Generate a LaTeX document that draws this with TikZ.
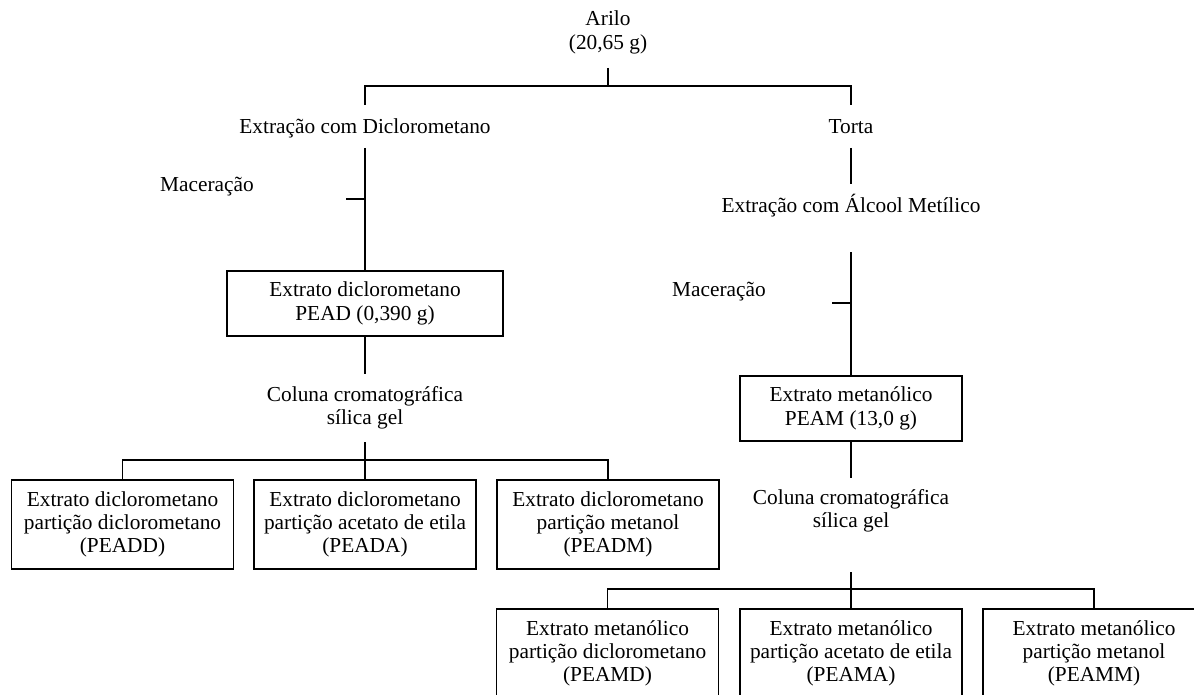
\documentclass[tikz,border=0pt]{standalone}
\usepackage{fontspec}
\setmainfont{Liberation Serif}
\begin{document}
\begin{tikzpicture}[x=0.75pt,y=-0.75pt,
  every node/.style={font=\fontsize{16}{17.5}\selectfont, align=center, inner sep=0pt},
  ln/.style={line width=1.4pt},
  bx/.style={draw, line width=1.4pt, minimum width=166.5pt, minimum height=66.75pt},
  bxs/.style={bx, minimum height=48.75pt}]
\useasboundingbox (0,0) rectangle (1194,695);
\clip (0,0) rectangle (1194,695);
% text nodes
\node (arilo) at (608,32.5) {Arilo\\(20,65 g)};
\node (extd) at (365,128) {Extração com Diclorometano};
\node (torta) at (851,127) {Torta};
\node (mac1) at (207,187) {Maceração};
\node[bxs, minimum width=207pt] (pead) at (365,303.5) {Extrato diclorometano\\PEAD (0,390 g)};
\node (col1) at (365,407.5) {Coluna cromatográfica\\sílica gel};
\node[bx] (b1) at (122.5,524.5) {Extrato diclorometano\\partição diclorometano\\(PEADD)};
\node[bx] (b2) at (365,524.5) {Extrato diclorometano\\partição acetato de etila\\(PEADA)};
\node[bx] (b3) at (608,524.5) {Extrato diclorometano\\partição metanol\\(PEADM)};
\node (extm) at (851,206) {Extração com Álcool Metílico};
\node (mac2) at (719,292) {Maceração};
\node[bxs] (peam) at (851,408.5) {Extrato metanólico\\PEAM (13,0 g)};
\node (col2) at (851,511) {Coluna cromatográfica\\sílica gel};
\node[bx] (r1) at (607.5,653.5) {Extrato metanólico\\partição diclorometano\\(PEAMD)};
\node[bx] (r2) at (851,653.5) {Extrato metanólico\\partição acetato de etila\\(PEAMA)};
\node[bx] (r3) at (1094,653.5) {Extrato metanólico\\partição metanol\\(PEAMM)};
% coordinates
\coordinate (a0) at (608,68);
\coordinate (j0) at (608,86);
\coordinate (jl) at (365,86);
\coordinate (jr) at (851,86);
\coordinate (dl) at (365,105);
\coordinate (dr) at (851,105);
\coordinate (l1) at (365,148);
\coordinate (t1) at (346,199);
\coordinate (t1e) at (365,199);
\coordinate (l2) at (365,374);
\coordinate (l3) at (365,442);
\coordinate (l4) at (365,460);
\coordinate (m1) at (851,148);
\coordinate (m2) at (851,184);
\coordinate (m3) at (851,252);
\coordinate (t2) at (832,303);
\coordinate (t2e) at (851,303);
\coordinate (m4) at (851,478);
\coordinate (m5) at (851,572);
\coordinate (m6) at (851,589);
% connectors
\draw[ln] (a0) -- (j0);
\draw[ln] (dl) -- (jl) -- (jr) -- (dr);
\draw[ln] (l1) -- (pead.north);
\draw[ln] (t1) -- (t1e);
\draw[ln] (pead.south) -- (l2);
\draw[ln] (l3) -- (l4) -- (b2.north);
\draw[ln] (b1.north) -- (b1.north |- l4) -- (b3.north |- l4) -- (b3.north);
\draw[ln] (m1) -- (m2);
\draw[ln] (m3) -- (peam.north);
\draw[ln] (t2) -- (t2e);
\draw[ln] (peam.south) -- (m4);
\draw[ln] (m5) -- (m6) -- (r2.north);
\draw[ln] (r1.north) -- (r1.north |- m6) -- (r3.north |- m6) -- (r3.north);
\end{tikzpicture}
\end{document}
